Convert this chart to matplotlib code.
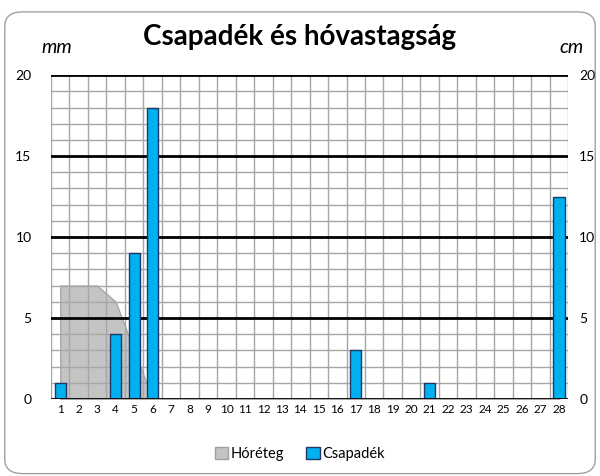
import matplotlib.pyplot as plt
from matplotlib.patches import FancyBboxPatch, Patch

plt.rcParams['font.family'] = ['Lato', 'DejaVu Sans']

days = list(range(1, 29))
csapadek = [1, 0, 0, 4, 9, 18, 0, 0, 0, 0, 0, 0, 0, 0, 0, 0, 3, 0, 0, 0, 1, 0, 0, 0, 0, 0, 0, 12.5]
horeteg = [7, 7, 7, 6, 3, 0, 0, 0, 0, 0, 0, 0, 0, 0, 0, 0, 0, 0, 0, 0, 0, 0, 0, 0, 0, 0, 0, 0]
yticks = [0, 5, 10, 15, 20]

fig = plt.figure(figsize=(6, 4.76), dpi=100)
frame = FancyBboxPatch((0.008, 0.005), 0.984, 0.97, boxstyle="round,pad=0,rounding_size=0.03",
                       transform=fig.transFigure, facecolor="white", edgecolor="#A0A0A0", lw=1, zorder=-10)
fig.patches.append(frame)
ax = fig.add_axes([0.085, 0.162, 0.862, 0.680])
ax.set_facecolor("none")

# hóréteg (gray area) under the grid
ax.fill_between(days, horeteg, 0, color="#C4C4C4", edgecolor="#A8A8A8", lw=1, zorder=1)

# grid
for x in range(29):
    ax.axvline(x + 0.5, color="#A6A6A6", lw=1, zorder=2)
for y in range(1, 20):
    if y % 5:
        ax.axhline(y, color="#A6A6A6", lw=1, zorder=2)
for y in [5, 10, 15, 20]:
    ax.axhline(y, color="black", lw=2, zorder=2)
ax.axhline(0, color="black", lw=2, zorder=4)

ax.bar(days, csapadek, width=0.6, color="#00B0F0", edgecolor="#1F3864", lw=1, zorder=3)

ax.set_xlim(0.5, 28.5)
ax.set_ylim(0, 20)
ax.set_xticks(days)
ax.set_xticklabels([str(d) for d in days], fontsize=8.5)
ax.set_yticks(yticks)
ax.tick_params(axis='y', labelsize=10, length=0, pad=14)
ax.tick_params(axis='x', length=0, pad=4)
for s in ax.spines.values():
    s.set_visible(False)

ax2 = ax.twinx()
ax2.set_ylim(0, 20)
ax2.set_yticks(yticks)
ax2.tick_params(axis='y', labelsize=10, length=0, pad=8)
for s in ax2.spines.values():
    s.set_visible(False)

fig.text(0.5, 0.922, "Csapadék és hóvastagság", ha="center", va="center", fontsize=20, fontweight="bold")
fig.text(0.095, 0.900, "mm", ha="center", va="center", fontsize=14, style="italic")
fig.text(0.952, 0.900, "cm", ha="center", va="center", fontsize=14, style="italic")

handles = [Patch(facecolor="#C4C4C4", edgecolor="#A0A0A0", label="Hóréteg"),
           Patch(facecolor="#00B0F0", edgecolor="#1F3864", label="Csapadék")]
fig.legend(handles=handles, loc="center", bbox_to_anchor=(0.5, 0.046), ncol=2, frameon=False,
           fontsize=10.5, handlelength=0.9, handleheight=0.9, handletextpad=0.2, columnspacing=1.5)

fig.savefig("out.png", dpi=100)
